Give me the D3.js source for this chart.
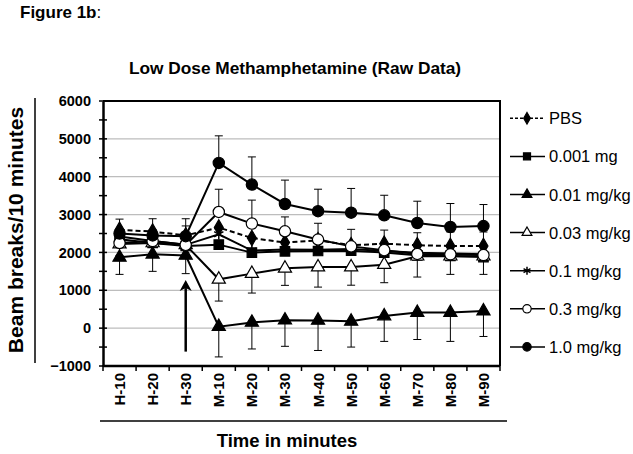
<!DOCTYPE html>
<html><head><meta charset="utf-8">
<script src="https://cdn.jsdelivr.net/npm/d3@7"></script>
<style>body{margin:0;background:#fff}svg{display:block}text{font-family:Arial,"Liberation Sans",sans-serif}</style>
</head><body><svg id="c" width="633" height="454"></svg>
<script>
const categories = ["H-10","H-20","H-30","M-10","M-20","M-30","M-40","M-50","M-60","M-70","M-80","M-90"];
const seriesNames = ["PBS","0.001 mg","0.01 mg/kg","0.03 mg/kg","0.1 mg/kg","0.3 mg/kg","1.0 mg/kg"];
const pbs      = [2600,2550,2450,2656,2381,2260,2320,2190,2230,2190,2170,2170];
const mg0001   = [2350,2250,2170,2206,1995,2030,2037,2046,1995,1923,1905,1878];
const mg001    = [1870,1950,1920,  40, 150, 210, 205, 180, 320, 410, 410, 450];
const mg003    = [2220,2250,2200,1290,1440,1580,1614,1614,1677,1900,1900,1900];
const mg01     = [2420,2300,2200,2480,2050,2080,2070,2090,2040,1990,1975,1950];
const mg03     = [2250,2300,2200,3069,2762,2558,2340,2160,2060,1960,1950,1930];
const mg10     = [2500,2450,2430,4365,3793,3280,3090,3050,2980,2778,2672,2695];
const err001   = [ 450, 450, 480, 800, 700, 690, 795, 680, 670, 710, 760, 670];
const err003   = [ 300, 300, 300, 575, 513, 450, 530, 480, 477, 550, 480, 480];
const err03    = [ 300, 300, 500, 600, 620, 380, 430, 450, 530, 560, 590, 610];
const err10    = [ 380, 440, 460, 715, 730, 630, 580, 640, 530, 575, 620, 570];
const yTicks   = [-1000,0,1000,2000,3000,4000,5000,6000];
const arrowAt  = "H-30";
const arrowFrom = -620, arrowTo = 1270;

const svg = d3.select("#c");
const L=103, R=500, T=101, B=366;
const x = d3.scaleBand().domain(categories).range([L,R]);
const y = d3.scaleLinear().domain([-1000,6000]).range([B,T]);
const cx = c => x(c)+x.bandwidth()/2;

// gridlines
svg.append("g").selectAll("line").data(yTicks.filter(v=>v>-1000&&v<6000)).join("line")
  .attr("x1",L).attr("x2",R).attr("y1",d=>y(d)).attr("y2",d=>y(d))
  .attr("stroke","#bdbdbd").attr("stroke-width",1.2);
// frame top/right
svg.append("path").attr("d",`M${L},${T}H${R}V${B}`).attr("fill","none").attr("stroke","#000").attr("stroke-width",2);

// y axis
const ya = svg.append("g").attr("transform",`translate(${L},0)`)
  .call(d3.axisLeft(y).tickValues(yTicks).tickSize(0).tickPadding(12).tickFormat(d3.format("d")));
ya.select(".domain").attr("stroke","#000").attr("stroke-width",2.5);
ya.selectAll("text").attr("font-size",14.5).attr("font-weight","bold").attr("fill","#000");
// minor ticks crossing axis every 500
svg.append("g").selectAll("line").data(d3.range(-1000,6001,500)).join("line")
  .attr("x1",L-4).attr("x2",L+4).attr("y1",d=>y(d)).attr("y2",d=>y(d)).attr("stroke","#000").attr("stroke-width",1.5);

// x axis
svg.append("line").attr("x1",L).attr("x2",R).attr("y1",B).attr("y2",B).attr("stroke","#000").attr("stroke-width",2.5);
svg.append("g").selectAll("line").data(d3.range(categories.length+1)).join("line")
  .attr("x1",i=>L+i*x.step()).attr("x2",i=>L+i*x.step()).attr("y1",B-1).attr("y2",B+5).attr("stroke","#000").attr("stroke-width",1.5);
svg.append("g").selectAll("text").data(categories).join("text")
  .attr("transform",d=>`translate(${cx(d)+5.5},${B+7}) rotate(-90)`)
  .attr("text-anchor","end").attr("font-size",15).attr("font-weight","bold").text(d=>d);

// arrow
const ax = cx(arrowAt);
svg.append("line").attr("x1",ax).attr("x2",ax).attr("y1",y(arrowFrom)).attr("y2",y(arrowTo)+8).attr("stroke","#000").attr("stroke-width",2.5);
svg.append("path").attr("d",`M${ax},${y(arrowTo)}L${ax-6},${y(arrowTo)+11}L${ax},${y(arrowTo)+8}L${ax+6},${y(arrowTo)+11}Z`).attr("fill","#000");

// series
const series = [
  {name:seriesNames[0], v:pbs,    sym:"diamond", fill:"#000", dash:"5,3"},
  {name:seriesNames[1], v:mg0001, sym:"square",  fill:"#000"},
  {name:seriesNames[2], v:mg001,  sym:"triangle",fill:"#000", err:err001, dir:-1},
  {name:seriesNames[3], v:mg003,  sym:"triangle",fill:"#fff", err:err003, dir:-1},
  {name:seriesNames[4], v:mg01,   sym:"asterisk",fill:"none"},
  {name:seriesNames[5], v:mg03,   sym:"circle",  fill:"#fff", err:err03, dir:1},
  {name:seriesNames[6], v:mg10,   sym:"circle",  fill:"#000", err:err10, dir:1},
];
const symMap = {diamond:[d3.symbolDiamond,70], square:[d3.symbolSquare,90], triangle:[d3.symbolTriangle,75], asterisk:[d3.symbolAsterisk,80], circle:[d3.symbolCircle,100]};
function marker(g, s, px, py, scale=1){
  const [t,sz] = symMap[s.sym];
  g.append("path").attr("d",d3.symbol(t, sz*scale)()).attr("transform",`translate(${px},${py})`)
   .attr("fill", s.fill).attr("stroke","#000").attr("stroke-width", s.sym==="asterisk"?1.5:1.2);
}
const line = d3.line().x((d,i)=>cx(categories[i])).y(d=>y(d));
series.forEach(s=>{
  const g = svg.append("g");
  if(s.err){
    s.v.forEach((v,i)=>{
      const e = v + s.dir*s.err[i], px = cx(categories[i]);
      g.append("line").attr("x1",px).attr("x2",px).attr("y1",y(v)).attr("y2",y(e)).attr("stroke","#000").attr("stroke-width",1);
      g.append("line").attr("x1",px-4).attr("x2",px+4).attr("y1",y(e)).attr("y2",y(e)).attr("stroke","#000").attr("stroke-width",1);
    });
  }
  g.append("path").attr("d",line(s.v)).attr("fill","none").attr("stroke","#000").attr("stroke-width",2)
    .attr("stroke-dasharray",s.dash||null);
  s.v.forEach((v,i)=>marker(g,s,cx(categories[i]),y(v)));
});

// legend
const lg = svg.append("g");
series.forEach((s,i)=>{
  const yy = 118.3 + i*38.1;
  lg.append("line").attr("x1",510).attr("x2",545).attr("y1",yy).attr("y2",yy).attr("stroke","#000").attr("stroke-width",1.5)
    .attr("stroke-dasharray",s.dash?"3,2":null);
  marker(lg,s,527,yy,0.55);
  lg.append("text").attr("x",549).attr("y",yy+6).attr("font-size",16.5).text(s.name);
});

// titles
svg.append("text").attr("x",20).attr("y",18).attr("font-size",17).attr("font-weight","bold").text("Figure 1b").append("tspan").attr("font-weight","normal").text(":");
svg.append("text").attr("x",295).attr("y",73.5).attr("text-anchor","middle").attr("font-size",17.3).attr("font-weight","bold").text("Low Dose Methamphetamine (Raw Data)");
svg.append("text").attr("transform","translate(23,230) rotate(-90)").attr("text-anchor","middle").attr("font-size",21).attr("font-weight","bold").text("Beam breaks/10 minutes");
svg.append("line").attr("x1",35).attr("x2",35).attr("y1",98).attr("y2",363).attr("stroke","#000").attr("stroke-width",1.5);
svg.append("line").attr("x1",100).attr("x2",507).attr("y1",421).attr("y2",421).attr("stroke","#000").attr("stroke-width",1.5);
svg.append("text").attr("x",287).attr("y",447).attr("text-anchor","middle").attr("font-size",18.5).attr("font-weight","bold").text("Time in minutes");
</script></body></html>
